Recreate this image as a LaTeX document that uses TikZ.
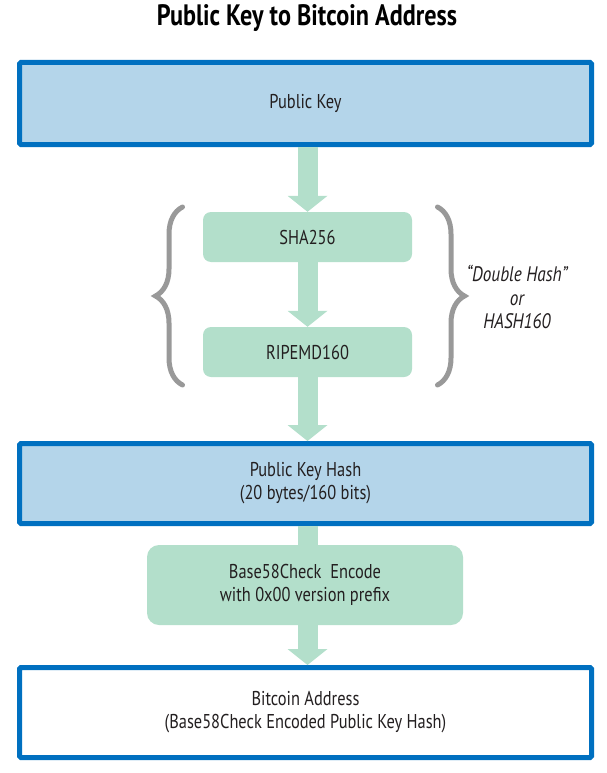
\documentclass[tikz,border=0pt]{standalone}
\usepackage{fontspec}
\setmainfont{PT Sans}[FakeStretch=0.82]
\usetikzlibrary{arrows.meta,decorations.pathreplacing}
\definecolor{keyblue}{RGB}{0,112,192}
\definecolor{keyfill}{RGB}{180,213,234}
\definecolor{hashgreen}{RGB}{179,223,203}
\definecolor{bracegray}{RGB}{153,153,153}
\definecolor{inkgray}{RGB}{35,31,32}
\begin{document}
\begin{tikzpicture}[x=1pt,y=-1pt,
        keybox/.style={draw=keyblue,line width=5pt,rounded corners=1.5pt,minimum width=572pt,align=center,text=inkgray,font=\fontsize{20}{23}\selectfont},
        hashbox/.style={fill=hashgreen,rounded corners=8pt,minimum width=209pt,minimum height=50pt,align=center,text=inkgray,font=\fontsize{20}{23}\selectfont},
        flow/.style={draw=hashgreen,line width=20pt,-{Triangle[width=40pt,length=16pt,line width=0pt]}},
        flowshaft/.style={draw=hashgreen,line width=20pt},
        hashbrace/.style={draw=bracegray,line width=5pt,line cap=round,decorate,decoration={brace,amplitude=27pt}}]
    \useasboundingbox (0,0) rectangle (607,773);
    \node[font=\fontsize{29.5}{32}\selectfont\bfseries,text=black] (title) at (307,18) {Public Key to Bitcoin Address};
    \node[keybox,fill=keyfill,minimum height=82pt] (pk) at (305.5,103.5) {Public Key};
    \node[hashbox] (sha) at (307.5,237) {SHA256};
    \node[hashbox] (rip) at (307.5,352) {RIPEMD160};
    \node[keybox,fill=keyfill,minimum height=80pt] (pkh) at (305.5,483.5) {Public Key Hash\\(20 bytes/160 bits)};
    \node[hashbox,rounded corners=12pt,minimum width=316pt,minimum height=80pt] (b58) at (305,585) {Base58Check\ \ Encode\\with 0x00 version prefix};
    \node[keybox,fill=white,minimum height=90pt] (addr) at (305.5,712.5) {Bitcoin Address\\(Base58Check Encoded Public Key Hash)};
    \node[align=center,text=inkgray,font=\fontsize{21}{23.5}\selectfont\itshape] (note) at (517,297) {“Double Hash”\\or\\HASH160};
    \coordinate (lbot) at (182.5,385);
    \coordinate (ltop) at (182.5,207);
    \coordinate (rtop) at (437.5,207);
    \coordinate (rbot) at (437.5,385);
    \draw[hashbrace] (lbot) -- (ltop);
    \draw[hashbrace] (rtop) -- (rbot);
    \draw[flow] (pk.south -| sha.north) -- (sha.north);
    \draw[flow] (sha.south) -- (rip.north);
    \draw[flow] (rip.south) -- (rip.south |- pkh.north);
    \draw[flowshaft] (pkh.south -| rip.south) -- (rip.south |- b58.north);
    \draw[flow] (b58.south -| rip.south) -- (rip.south |- addr.north);
\end{tikzpicture}
\end{document}
